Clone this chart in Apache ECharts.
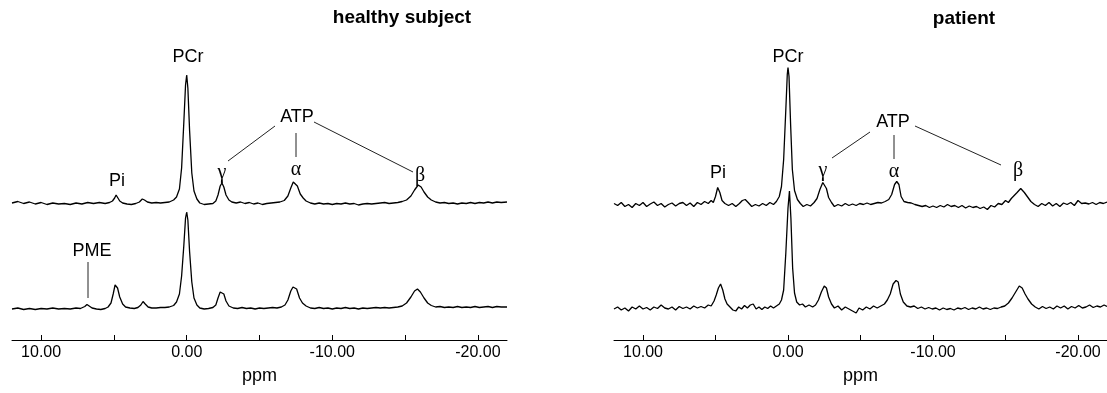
<!DOCTYPE html>
<html>
<head>
<meta charset="utf-8">
<script src="https://cdn.jsdelivr.net/npm/echarts@6/dist/echarts.min.js"></script>
<style>
  html, body { margin: 0; padding: 0; background: #fff; }
  #main { width: 1107px; height: 393px; }
</style>
</head>
<body>
<div id="main"></div>
<script>
// [ppm, signal]
const healthyTop = [[12.0, 0], [11.6, 1.5], [11.2, -0.5], [10.8, 1], [10.4, -1], [10.0, 0.5], [9.6, -1.5], [9.2, 0], [8.8, -1], [8.4, -0.5], [8.0, -1.5], [7.6, 0], [7.2, -1], [6.8, 0.5], [6.4, -0.5], [6.0, 0.5], [5.6, -0.5], [5.3, 0.5], [5.1, 2], [4.95, 5], [4.85, 8], [4.75, 6], [4.6, 2], [4.4, 0], [4.1, -1], [3.8, -1.5], [3.5, -0.5], [3.25, 1], [3.05, 4], [2.9, 3], [2.7, 1], [2.4, 0], [2.1, 0.5], [1.8, 0], [1.5, 0.5], [1.2, 1], [0.9, 3], [0.7, 6], [0.5, 14], [0.35, 35], [0.2, 80], [0.08, 118], [0, 128], [-0.08, 115], [-0.2, 72], [-0.35, 30], [-0.5, 12], [-0.7, 4], [-0.9, 0], [-1.2, -1.5], [-1.5, -1], [-1.8, -0.5], [-2.0, 2], [-2.15, 8], [-2.3, 17], [-2.42, 20], [-2.55, 16], [-2.7, 8], [-2.9, 3], [-3.1, 1], [-3.4, 0], [-3.7, 1], [-4.0, -0.5], [-4.3, 0.5], [-4.6, -1], [-4.9, 0], [-5.2, -1.5], [-5.5, -0.5], [-5.8, 0], [-6.1, 0.5], [-6.4, 1], [-6.7, 2.5], [-6.95, 7], [-7.15, 15], [-7.32, 21], [-7.45, 22], [-7.6, 17], [-7.8, 9], [-8.0, 5], [-8.2, 2], [-8.5, 0], [-8.8, -1], [-9.1, 0], [-9.4, -1], [-9.7, -0.5], [-10.0, -1.5], [-10.3, -0.5], [-10.6, -1], [-10.9, 0], [-11.2, -1], [-11.5, -0.5], [-11.8, -2], [-12.1, -1], [-12.4, -0.5], [-12.7, -1], [-13.0, -0.5], [-13.3, 0], [-13.6, 0.5], [-13.9, -0.5], [-14.2, 0], [-14.5, 0.5], [-14.8, 1.5], [-15.1, 3], [-15.4, 7], [-15.65, 13], [-15.9, 18], [-16.1, 16], [-16.3, 11], [-16.55, 6], [-16.8, 3], [-17.1, 1], [-17.4, 0], [-17.7, 0.5], [-18.0, -0.5], [-18.3, 0], [-18.6, -1], [-18.9, 0], [-19.2, -0.5], [-19.5, 0.5], [-19.8, -0.5], [-20.1, 0.5], [-20.4, 0], [-20.7, 1], [-21.0, 0], [-21.3, 1], [-21.6, 0.5], [-22.0, 1]];

const healthyBottom = [[12.0, -1], [11.6, 0], [11.2, -1.5], [10.8, -0.5], [10.4, -1.5], [10.0, -0.5], [9.6, -1], [9.2, 0], [8.8, -1], [8.4, -0.5], [8.0, -1], [7.6, 0], [7.3, -0.5], [7.0, 1.5], [6.85, 3.5], [6.7, 2], [6.5, 0], [6.2, -1], [5.9, -1.5], [5.6, -0.5], [5.4, 1], [5.2, 5], [5.05, 14], [4.92, 23], [4.85, 24], [4.75, 20], [4.6, 11], [4.4, 4], [4.2, 1], [3.9, 0], [3.6, -0.5], [3.35, 0.5], [3.15, 3], [3.0, 6.5], [2.85, 4], [2.65, 1], [2.4, 0], [2.1, 0], [1.8, 0.5], [1.5, 0.5], [1.2, 1], [0.9, 2.5], [0.7, 6], [0.5, 14], [0.35, 32], [0.2, 62], [0.08, 90], [0, 96], [-0.08, 88], [-0.2, 56], [-0.35, 26], [-0.5, 10], [-0.7, 3], [-0.9, 0], [-1.2, -1], [-1.5, -0.5], [-1.8, 0.5], [-2.0, 3], [-2.15, 10], [-2.3, 16], [-2.4, 17.5], [-2.55, 14], [-2.7, 7], [-2.9, 2], [-3.2, 0], [-3.5, -0.5], [-3.8, 0.5], [-4.1, -0.5], [-4.4, 0], [-4.7, -1], [-5.0, 0], [-5.3, -0.5], [-5.6, 0], [-5.9, 0.5], [-6.2, 0], [-6.5, 1], [-6.75, 3], [-6.95, 8], [-7.15, 17], [-7.3, 21], [-7.42, 22], [-7.55, 19], [-7.75, 10], [-7.95, 5], [-8.2, 2], [-8.5, 0], [-8.8, -0.5], [-9.1, 0.5], [-9.4, -0.5], [-9.7, 0], [-10.0, -1], [-10.3, 0], [-10.6, -0.5], [-10.9, 0.5], [-11.2, -0.5], [-11.5, 0], [-11.8, -1], [-12.1, 0], [-12.4, -0.5], [-12.7, 0], [-13.0, 0.5], [-13.3, 0], [-13.6, 0.5], [-13.9, 0], [-14.2, 0.5], [-14.5, 1], [-14.8, 2], [-15.1, 5], [-15.4, 11], [-15.65, 17], [-15.85, 19], [-16.05, 16], [-16.3, 10], [-16.55, 5], [-16.8, 2.5], [-17.1, 1], [-17.4, 1.5], [-17.7, 0.5], [-18.0, 1], [-18.3, 0.5], [-18.6, 1.5], [-18.9, 0.5], [-19.2, 1], [-19.5, 0.5], [-19.8, 1.5], [-20.1, 0.5], [-20.4, 1], [-20.7, 1.5], [-21.0, 0.5], [-21.3, 1.5], [-21.6, 1], [-22.0, 1]];

const patientTop = [[12.0, 1], [11.75, -1], [11.5, 2], [11.25, -2], [11.0, 0], [10.75, -3], [10.5, 1], [10.25, -1], [10.0, 2], [9.75, -2], [9.5, 0.5], [9.25, 2.5], [9.0, -1], [8.75, 1], [8.5, -2.5], [8.25, 0], [8.0, 1.5], [7.75, -1.5], [7.5, 1], [7.25, 2], [7.0, -1], [6.75, 1.5], [6.5, -2], [6.25, 2], [6.0, 0], [5.75, 3], [5.5, 1], [5.3, 4], [5.15, 2], [5.0, 8], [4.85, 17], [4.7, 12], [4.55, 4], [4.35, 1], [4.1, -1], [3.85, 1], [3.6, -2], [3.35, 1], [3.15, 4], [2.95, 5], [2.75, 2], [2.5, -2], [2.25, 0], [2.0, -1.5], [1.75, 1], [1.5, -1], [1.25, 2], [1.0, 0], [0.8, 3], [0.6, 8], [0.45, 18], [0.3, 45], [0.15, 95], [0.05, 130], [0, 137], [-0.07, 128], [-0.18, 80], [-0.3, 35], [-0.45, 14], [-0.65, 5], [-0.85, 1], [-1.05, -2], [-1.3, 0], [-1.55, -1.5], [-1.8, 2], [-2.0, 6], [-2.2, 15], [-2.4, 22], [-2.5, 23], [-2.65, 16], [-2.8, 7], [-3.0, 2], [-3.2, -2], [-3.45, 0], [-3.7, -1.5], [-3.95, 1], [-4.2, -1], [-4.45, 0.5], [-4.7, -1], [-4.95, 1], [-5.2, 0], [-5.45, 1.5], [-5.7, 0], [-5.95, 1], [-6.2, 2], [-6.45, 1.5], [-6.7, 3], [-6.95, 5], [-7.15, 10], [-7.35, 20], [-7.5, 23], [-7.65, 20], [-7.8, 8], [-8.0, 3], [-8.25, 2], [-8.5, 1.5], [-8.75, 0], [-9.0, -1], [-9.25, -2], [-9.5, -1], [-9.75, -3], [-10.0, -1.5], [-10.25, -3], [-10.5, -1], [-10.75, -2.5], [-11.0, 0], [-11.25, -2], [-11.5, -1], [-11.75, -3], [-12.0, -1], [-12.25, -3.5], [-12.5, -1.5], [-12.75, -3], [-13.0, -2], [-13.25, -4], [-13.5, -2.5], [-13.75, -5], [-14.0, -1], [-14.25, -2.5], [-14.5, 1], [-14.75, 0], [-15.0, 4], [-15.2, 2], [-15.4, 6], [-15.6, 9], [-15.8, 12], [-16.05, 16], [-16.3, 12], [-16.5, 8], [-16.75, 3], [-17.0, 0], [-17.25, -2], [-17.5, 1], [-17.75, -1], [-18.0, 2], [-18.25, -1.5], [-18.5, 1], [-18.75, -2], [-19.0, 1.5], [-19.25, 0], [-19.5, 2], [-19.75, -1], [-20.0, 4], [-20.25, 1], [-20.5, 1.5], [-20.75, 0.5], [-21.0, 2], [-21.25, 0], [-21.5, 2], [-21.75, 1], [-22.0, 2.5]];

const patientBottom = [[12.0, -1], [11.75, 1], [11.5, -2], [11.25, 0], [11.0, -3], [10.75, 1], [10.5, -1], [10.25, 2], [10.0, -1], [9.75, 0.5], [9.5, -2], [9.25, 1], [9.0, -0.5], [8.75, 3], [8.5, 0], [8.25, -1], [8.0, 1], [7.75, -2], [7.5, 1.5], [7.25, -0.5], [7.0, 1], [6.75, -1], [6.5, 2], [6.25, 0], [6.0, 1.5], [5.75, 0], [5.5, 3], [5.3, 2], [5.1, 7], [4.95, 13], [4.8, 20], [4.65, 24], [4.5, 18], [4.35, 9], [4.2, 4], [4.0, 1], [3.8, -2], [3.6, -3], [3.4, 1], [3.2, -1], [3.0, 2.5], [2.8, 0], [2.6, 3], [2.4, 4], [2.2, -1], [2.0, 1], [1.8, -1.5], [1.6, 1], [1.4, -0.5], [1.2, 2], [1.0, 0], [0.8, 2], [0.6, 4], [0.45, 8], [0.3, 18], [0.15, 55], [0.0, 100], [-0.1, 117], [-0.2, 90], [-0.32, 40], [-0.45, 15], [-0.6, 6], [-0.8, 3], [-1.0, 4], [-1.2, 1], [-1.45, 3], [-1.7, 1], [-1.9, 3], [-2.1, 8], [-2.3, 16], [-2.5, 22], [-2.65, 20], [-2.8, 11], [-3.0, 4], [-3.2, 0], [-3.45, 2], [-3.7, -2], [-3.95, 1], [-4.2, -1], [-4.45, -3], [-4.7, -5], [-4.9, 0], [-5.15, -2], [-5.4, 1], [-5.65, -1], [-5.9, 2], [-6.15, 0], [-6.4, 2], [-6.65, 4], [-6.85, 8], [-7.05, 14], [-7.25, 24], [-7.45, 27.5], [-7.6, 26], [-7.75, 14], [-7.95, 6], [-8.2, 2], [-8.45, 1], [-8.7, 2], [-8.95, -0.5], [-9.2, 1], [-9.45, -1], [-9.7, 0.5], [-9.95, -1], [-10.2, 0], [-10.45, -2], [-10.7, 0], [-10.95, -1.5], [-11.2, -0.5], [-11.45, -2], [-11.7, 0], [-11.95, -1], [-12.2, 0.5], [-12.45, -1.5], [-12.7, 0], [-12.95, -1], [-13.2, 1], [-13.45, -1], [-13.7, 0], [-13.95, -1.5], [-14.2, 0], [-14.45, -0.5], [-14.7, 1], [-14.95, 2], [-15.2, 5], [-15.45, 10], [-15.7, 16], [-15.95, 22], [-16.15, 20], [-16.35, 14], [-16.55, 9], [-16.8, 4], [-17.05, 1], [-17.3, -1], [-17.55, 1.5], [-17.8, -0.5], [-18.05, 1], [-18.3, -1], [-18.55, 2], [-18.8, 0], [-19.05, 2], [-19.3, -1], [-19.55, 1.5], [-19.8, 0], [-20.05, 2.5], [-20.3, 0], [-20.55, 1], [-20.8, 3], [-21.05, 0.5], [-21.3, 2], [-21.55, 1], [-21.8, 3], [-22.0, 1.5]];

const tickValues = [10, 5, 0, -5, -10, -15, -20];
const labelValues = [10, 0, -10, -20];
const panelTitles = ['healthy subject', 'patient'];

const FONT = '"Liberation Sans", Arial, sans-serif';
const GREEK = '"Liberation Serif", "DejaVu Serif", serif';

var myChart = echarts.init(document.getElementById('main'));

function xAxisFor(gridIndex) {
  return {
    type: 'value',
    gridIndex: gridIndex,
    min: -22,
    max: 12,
    inverse: true,
    name: 'ppm',
    nameLocation: 'middle',
    nameGap: 27,
    nameTextStyle: { fontFamily: FONT, fontSize: 18, color: '#000' },
    axisLine: { onZero: false, lineStyle: { color: '#000', width: 1 } },
    axisTick: { inside: true, length: 5, customValues: tickValues, lineStyle: { color: '#000' } },
    axisLabel: {
      customValues: labelValues,
      margin: 5,
      fontFamily: FONT,
      fontSize: 16,
      color: '#000',
      formatter: function (v) { return v.toFixed(2); }
    },
    splitLine: { show: false }
  };
}

// baseline of each trace sits at value 0, placed by the axis range
function yAxisFor(gridIndex, min, max) {
  return { type: 'value', gridIndex: gridIndex, min: min, max: max, show: false };
}

function trace(data, xi, yi) {
  return {
    type: 'line',
    data: data,
    xAxisIndex: xi,
    yAxisIndex: yi,
    showSymbol: false,
    silent: true,
    lineStyle: { color: '#000', width: 1.3 },
    animation: false
  };
}

function txt(text, x, y, size, font, weight) {
  return {
    type: 'text',
    style: {
      text: text, x: x, y: y,
      font: (weight || 'normal') + ' ' + size + 'px ' + (font || FONT),
      fill: '#000', textAlign: 'center', textVerticalAlign: 'middle'
    }
  };
}

function ln(x1, y1, x2, y2) {
  return { type: 'line', shape: { x1: x1, y1: y1, x2: x2, y2: y2 }, style: { stroke: '#222', lineWidth: 1 } };
}

var option = {
  backgroundColor: '#fff',
  animation: false,
  grid: [
    { left: 12, right: 600, top: 40, bottom: 53 },
    { left: 614, right: 0, top: 40, bottom: 53 }
  ],
  xAxis: [xAxisFor(0), xAxisFor(1)],
  yAxis: [
    yAxisFor(0, -137, 163),
    yAxisFor(0, -32, 268),
    yAxisFor(1, -135.5, 164.5),
    yAxisFor(1, -32, 268)
  ],
  series: [
    trace(healthyTop, 0, 0),
    trace(healthyBottom, 0, 1),
    trace(patientTop, 1, 2),
    trace(patientBottom, 1, 3)
  ],
  graphic: [
    txt(panelTitles[0], 402, 18, 19, FONT, 'bold'),
    txt('PCr', 188, 57, 18),
    txt('ATP', 297, 117, 18),
    ln(275, 126, 228, 161),
    ln(296, 133, 296, 157),
    ln(314, 122, 413, 172),
    txt('γ', 222, 173, 20, GREEK),
    txt('α', 296, 170, 20, GREEK),
    txt('β', 420, 176, 20, GREEK),
    txt('Pi', 117, 181, 18),
    txt('PME', 92, 251, 18),
    ln(88, 262, 88, 298),

    txt(panelTitles[1], 964, 19, 19, FONT, 'bold'),
    txt('PCr', 788, 57, 18),
    txt('ATP', 893, 122, 18),
    ln(870, 132, 832, 158),
    ln(894, 135, 894, 159),
    ln(915, 126, 1001, 165),
    txt('γ', 823, 171, 20, GREEK),
    txt('α', 894, 172, 20, GREEK),
    txt('β', 1018, 171, 20, GREEK),
    txt('Pi', 718, 173, 18)
  ]
};

myChart.setOption(option, true);
</script>
</body>
</html>
